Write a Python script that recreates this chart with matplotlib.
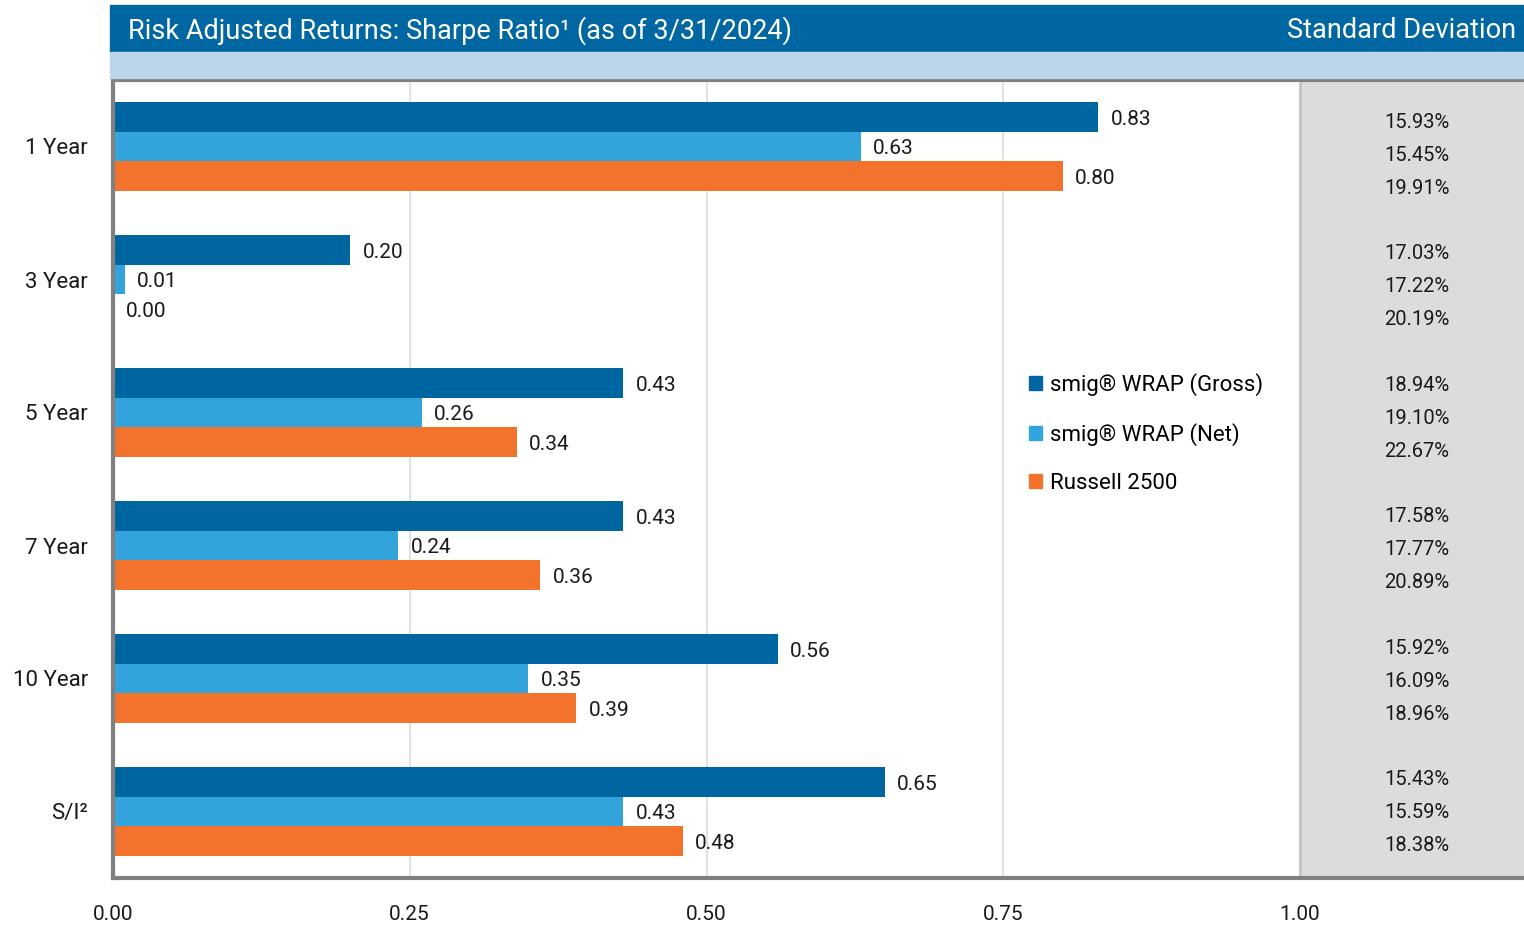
import numpy as np
import matplotlib.pyplot as plt
from matplotlib.patches import Rectangle, Patch

plt.rcParams['font.family'] = ['Roboto', 'DejaVu Sans']

periods = ["1 Year", "3 Year", "5 Year", "7 Year", "10 Year", "S/I²"]
series_names = ["smig® WRAP (Gross)", "smig® WRAP (Net)", "Russell 2500"]
gross = [0.83, 0.20, 0.43, 0.43, 0.56, 0.65]
net = [0.63, 0.01, 0.26, 0.24, 0.35, 0.43]
russell = [0.80, 0.00, 0.34, 0.36, 0.39, 0.48]
std_gross = [15.93, 17.03, 18.94, 17.58, 15.92, 15.43]
std_net = [15.45, 17.22, 19.10, 17.77, 16.09, 15.59]
std_russell = [19.91, 20.19, 22.67, 20.89, 18.96, 18.38]
xticks = [0.0, 0.25, 0.5, 0.75, 1.0]

colors = ['#0066a1', '#33a4db', '#f3722c']
W, H = 1524, 925

fig = plt.figure(figsize=(W / 100, H / 100), dpi=100)
ax = fig.add_axes([113 / W, (H - 878) / H, (W - 113) / W, (878 - 80) / H])

# header bars
fig.patches.append(Rectangle((110 / W, (H - 52) / H), 1 - 110 / W, 47 / H,
                             transform=fig.transFigure, color='#0067a3', zorder=0))
fig.patches.append(Rectangle((110 / W, (H - 78) / H), 1 - 110 / W, 26 / H,
                             transform=fig.transFigure, color='#bad6e8', zorder=0))
fig.text(128 / W, 1 - 31 / H, "Risk Adjusted Returns: Sharpe Ratio¹ (as of 3/31/2024)",
         color='white', fontsize=19.5, va='center', ha='left')
fig.text(1516 / W, 1 - 31 / H, "Standard Deviation",
         color='white', fontsize=19.5, va='center', ha='right')

xmax = (W - 113) / 1187
bh = 0.222
y = np.arange(len(periods))
ax.axvspan(1.0, xmax, color='#dcdcdc', zorder=0)
ax.axvline(1.0, color='#c4c4c4', lw=2, zorder=1)
for t in xticks[1:-1]:
    ax.axvline(t, color='#e2e2e2', lw=1.5, zorder=0)

for i, (vals, c) in enumerate(zip([gross, net, russell], colors)):
    pos = y + (i - 1) * bh
    ax.barh(pos, vals, height=bh, color=c, zorder=2)
    for p, v in zip(pos, vals):
        ax.annotate(f"{v:.2f}", (v, p), xytext=(9, -1.5), textcoords='offset points',
                    fontsize=15, va='center', ha='left', color='#1a1a1a')

    # standard deviation column
    std = [std_gross, std_net, std_russell][i]
    for g, s in enumerate(std):
        ty = (42.5 + 131.4 * g + 33 * i) / 133 - 0.5
        ax.text(1.0986, ty, f"{s:.2f}%", fontsize=14.5, ha='center', va='center', color='#1a1a1a')

ax.set_xlim(0, xmax)
ax.set_ylim(len(periods) - 0.5, -0.5)
ax.set_yticks(y)
ax.set_yticklabels(periods, fontsize=16, color='#1a1a1a')
ax.set_xticks(xticks)
ax.set_xticklabels([f"{t:.2f}" for t in xticks], fontsize=15, color='#1a1a1a')
ax.tick_params(length=0)
ax.tick_params(axis='x', pad=19.5)
ax.tick_params(axis='y', pad=18)
for s in ['left', 'bottom', 'top']:
    ax.spines[s].set_color('#808080')
    ax.spines[s].set_linewidth(3)
ax.spines['right'].set_visible(False)

handles = [Patch(color=c) for c in colors]
ax.legend(handles, series_names, loc='upper left', frameon=False, fontsize=16,
          bbox_to_anchor=(1029 / W, 1 - 373 / H), bbox_transform=fig.transFigure,
          handlelength=0.58, handleheight=0.58, handletextpad=0.35, labelspacing=1.22,
          borderpad=0, borderaxespad=0)

fig.savefig("out.png", dpi=100)
